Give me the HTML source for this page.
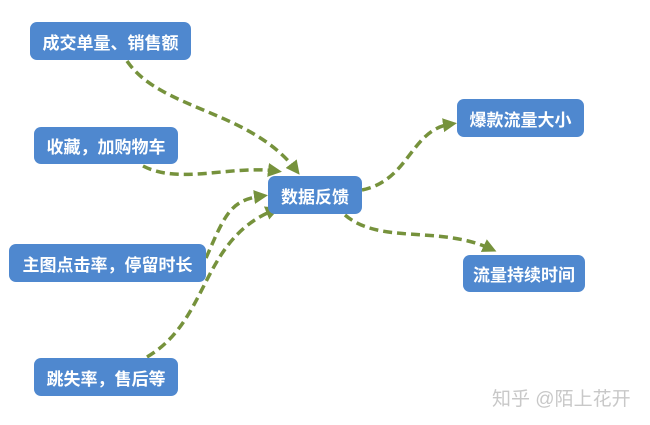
<!DOCTYPE html>
<html><head><meta charset="utf-8"><style>
body{margin:0;width:650px;height:425px;background:#fff;position:relative;overflow:hidden;font-family:"Liberation Sans","Noto Sans CJK SC",sans-serif}
.b{position:absolute;background:#4f88cf;border-radius:7px;color:#fff;font-weight:bold;font-size:17px;display:flex;align-items:center;justify-content:center;white-space:nowrap}
svg{position:absolute;left:0;top:0}
</style></head><body>
<svg width="650" height="425">
<defs><marker id="a" markerWidth="14" markerHeight="14" refX="8" refY="7" orient="auto" markerUnits="userSpaceOnUse"><path d="M0,0 L14,7 L0,14 Z" fill="#76923c"/></marker></defs>
<g fill="none" stroke="#76923c" stroke-width="3.5" stroke-dasharray="9,5">
<path d="M127,61 C160,110 250,110 296,170" marker-end="url(#a)"/>
<path d="M143,166 C180,185 230,165 276,171" marker-end="url(#a)"/>
<path d="M206,258 C225,215 230,200 262,196" marker-end="url(#a)"/>
<path d="M147,357 C210,320 200,240 274,210" marker-end="url(#a)"/>
<path d="M362,190 C410,180 410,130 451,124" marker-end="url(#a)"/>
<path d="M345,215 C380,245 440,225 491,249" marker-end="url(#a)"/>
</g>
</svg>
<div class="b" style="left:30px;top:22px;width:161px;height:38px">成交单量、销售额</div>
<div class="b" style="left:34px;top:127px;width:144px;height:37px">收藏，加购物车</div>
<div class="b" style="left:268px;top:176px;width:94px;height:38px">数据反馈</div>
<div class="b" style="left:9px;top:244px;width:197px;height:38px">主图点击率，停留时长</div>
<div class="b" style="left:34px;top:358px;width:144px;height:38px">跳失率，售后等</div>
<div class="b" style="left:457px;top:99px;width:127px;height:38px">爆款流量大小</div>
<div class="b" style="left:463px;top:255px;width:122px;height:37px">流量持续时间</div>
<div style="position:absolute;left:492px;top:384px;font-size:19px;color:#c8c8c8">知乎 @陌上花开</div>
</body></html>
